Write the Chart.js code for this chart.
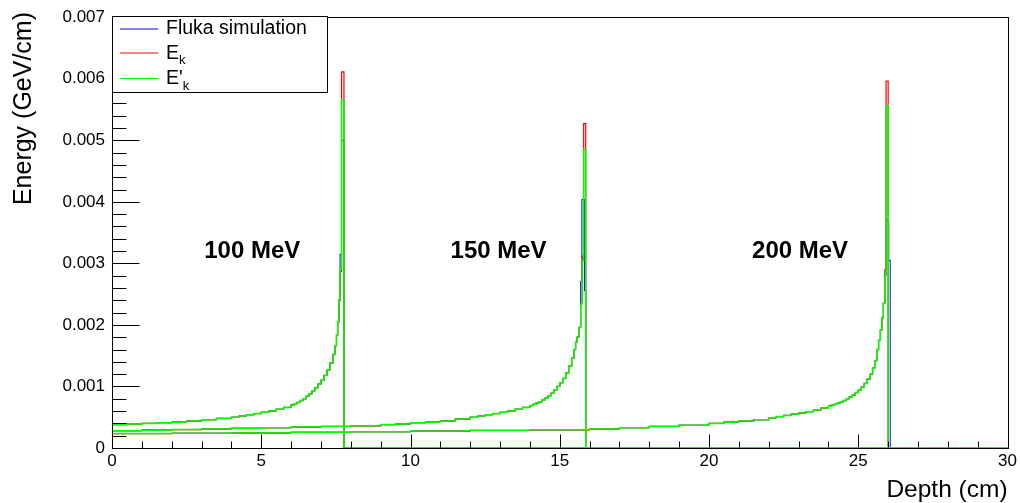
<!DOCTYPE html>
<html lang="en">

<head>
    <meta charset="UTF-8">
    <script src="https://cdn.jsdelivr.net/npm/chart.js"></script>
    <title>Bragg peaks</title>
    <style>
        body {
            margin: 0;
            background: #ffffff;
        }

        #wrap {
            width: 1020px;
            height: 503px;
        }
    </style>
</head>

<body>
    <div id="wrap">
        <canvas id="braggChart"></canvas>
    </div>

    <script>
        // bin left edges (cm) and energy deposit (GeV/cm).
        // the three curves of one beam overlap up to the peak, so that part is shared
        const depth100 = [0, 0.5, 1, 1.5, 2, 2.5, 3, 3.5, 4, 4.25, 4.5, 4.75, 5, 5.25, 5.5, 5.75, 6, 6.1, 6.2, 6.3, 6.4, 6.5, 6.6, 6.7, 6.8, 6.9, 7.0, 7.1, 7.2, 7.3, 7.4, 7.47, 7.52, 7.56, 7.6];
        const bulk100 = [0.00038, 0.00039, 0.0004, 0.00041, 0.00042, 0.00044, 0.00046, 0.00048, 0.0005, 0.00052, 0.00054, 0.00056, 0.00058, 0.0006, 0.00063, 0.00066, 0.0007, 0.00072, 0.00074, 0.00077, 0.0008, 0.00084, 0.00088, 0.00093, 0.00098, 0.00104, 0.0011, 0.00118, 0.00127, 0.00138, 0.00152, 0.00166, 0.00183, 0.00205, 0.0024];
        const peakDepth100 = [7.64, 7.69, 7.77, 30];
        const flukaPeak100 = [0.00315, 0.005, 0, 0];
        const ekPeak100 = [0.00287, 0.00611, 0, 0];
        const ekPrimePeak100 = [0.0029, 0.00566, 0, 0];

        const depth150 = [0, 1, 2, 3, 4, 5, 6, 7, 8, 9, 9.5, 10, 10.5, 11, 11.5, 12, 12.25, 12.5, 12.75, 13, 13.25, 13.5, 13.75, 14, 14.1, 14.2, 14.3, 14.4, 14.5, 14.6, 14.7, 14.8, 14.9, 15.0, 15.1, 15.2, 15.3, 15.4, 15.48, 15.53, 15.58, 15.65];
        const bulk150 = [0.00028, 0.00029, 0.0003, 0.00031, 0.00032, 0.00033, 0.00034, 0.00035, 0.00036, 0.00038, 0.00039, 0.00041, 0.00042, 0.00044, 0.00047, 0.0005, 0.00052, 0.00054, 0.00056, 0.00058, 0.0006, 0.00063, 0.00066, 0.00069, 0.00071, 0.00073, 0.00075, 0.00078, 0.00081, 0.00085, 0.00089, 0.00094, 0.001, 0.00106, 0.00113, 0.00122, 0.00133, 0.00146, 0.0016, 0.00172, 0.0018, 0.00196];
        const peakDepth150 = [15.7, 15.75, 15.8, 15.87, 30];
        const ekPeak150 = [0.00234, 0.00312, 0.00527, 0, 0];
        const ekPrimePeak150 = [0.00234, 0.00304, 0.00485, 0, 0];
        const peakDepthFluka150 = [15.7, 15.74, 15.83, 15.87, 30];
        const flukaPeak150 = [0.00271, 0.00404, 0.00255, 0, 0];

        const depth200 = [0, 2, 4, 6, 8, 10, 12, 14, 16, 17, 18, 19, 20, 20.5, 21, 21.5, 22, 22.25, 22.5, 22.75, 23, 23.25, 23.5, 23.75, 24, 24.1, 24.2, 24.3, 24.4, 24.5, 24.6, 24.7, 24.8, 24.9, 25.0, 25.1, 25.2, 25.3, 25.4, 25.48, 25.55, 25.62, 25.68, 25.74, 25.79, 25.84];
        const bulk200 = [0.000235, 0.00024, 0.000245, 0.000255, 0.000265, 0.000275, 0.000285, 0.000295, 0.00031, 0.00033, 0.00035, 0.00037, 0.0004, 0.00042, 0.00044, 0.00046, 0.00049, 0.00051, 0.00053, 0.00055, 0.00057, 0.00059, 0.00062, 0.00065, 0.00068, 0.0007, 0.00071, 0.00073, 0.00075, 0.00077, 0.0008, 0.00083, 0.00086, 0.0009, 0.00094, 0.00099, 0.00105, 0.00112, 0.0012, 0.0013, 0.00142, 0.0016, 0.00175, 0.00192, 0.00212, 0.00235];
        const peakDepth200 = [25.89, 25.93, 26.0, 30];
        const ekPeak200 = [0.0029, 0.00596, 0, 0];
        const ekPrimePeak200 = [0.00282, 0.00556, 0, 0];
        const peakDepthFluka200 = [25.89, 25.93, 26.02, 26.07, 30];
        const flukaPeak200 = [0.0028, 0.0037, 0.00305, 0, 0];

        const beamLabels = ['100 MeV', '150 MeV', '200 MeV'];

        const FONT = "'Liberation Sans', Arial, Helvetica, sans-serif";
        const BLUE = '#0000ff';
        const RED = '#ff0000';
        const GREEN = '#00ff00';

        function toPoints(depth, values, peakDepth, peakValues) {
            const d = depth.concat(peakDepth);
            const v = values.concat(peakValues);
            return d.map((x, i) => ({ x: x, y: v[i] }));
        }

        function histo(points, color, width, order) {
            return {
                data: points,
                borderColor: color,
                borderWidth: width,
                stepped: true,
                pointRadius: 0,
                fill: false,
                order: order
            };
        }

        // green on top, then red, blue underneath
        const datasets = [
            histo(toPoints(depth100, bulk100, peakDepth100, flukaPeak100), BLUE, 1, 3),
            histo(toPoints(depth150, bulk150, peakDepthFluka150, flukaPeak150), BLUE, 1, 3),
            histo(toPoints(depth200, bulk200, peakDepthFluka200, flukaPeak200), BLUE, 1, 3),
            histo(toPoints(depth100, bulk100, peakDepth100, ekPeak100), RED, 1.2, 2),
            histo(toPoints(depth150, bulk150, peakDepth150, ekPeak150), RED, 1.2, 2),
            histo(toPoints(depth200, bulk200, peakDepth200, ekPeak200), RED, 1.2, 2),
            histo(toPoints(depth100, bulk100, peakDepth100, ekPrimePeak100), GREEN, 1.5, 1),
            histo(toPoints(depth150, bulk150, peakDepth150, ekPrimePeak150), GREEN, 1.5, 1),
            histo(toPoints(depth200, bulk200, peakDepth200, ekPrimePeak200), GREEN, 1.5, 1)
        ];

        function line(ctx, x1, y1, x2, y2) {
            ctx.beginPath();
            ctx.moveTo(x1, y1);
            ctx.lineTo(x2, y2);
            ctx.stroke();
        }

        // ROOT-style frame, inner ticks, legend and text
        const rootStyle = {
            id: 'rootStyle',
            beforeDraw(chart) {
                const ctx = chart.ctx;
                ctx.save();
                ctx.fillStyle = '#ffffff';
                ctx.fillRect(0, 0, chart.width, chart.height);
                ctx.restore();
            },
            afterDatasetsDraw(chart) {
                const ctx = chart.ctx;
                const a = chart.chartArea;
                const xs = chart.scales.x;
                const ys = chart.scales.y;
                const left = Math.round(a.left) + 0.5;
                const bottom = Math.round(a.bottom) + 0.5;
                ctx.save();
                ctx.strokeStyle = '#000000';
                ctx.lineWidth = 1;

                // frame
                ctx.strokeRect(left, Math.round(a.top) + 0.5, Math.round(a.right - a.left), Math.round(a.bottom - a.top));

                // x ticks
                for (let v = 0; v <= 30; v++) {
                    const px = Math.round(xs.getPixelForValue(v)) + 0.5;
                    const len = v % 5 === 0 ? 14 : 7;
                    line(ctx, px, bottom, px, bottom - len);
                }
                // y ticks
                for (let i = 0; i <= 35; i++) {
                    const py = Math.round(ys.getPixelForValue(i * 0.0002)) + 0.5;
                    const len = i % 5 === 0 ? 27 : 14;
                    line(ctx, left, py, left + len, py);
                }

                // beam energy labels
                ctx.fillStyle = '#000000';
                ctx.font = 'bold 24px ' + FONT;
                ctx.textAlign = 'center';
                ctx.textBaseline = 'middle';
                const labelX = [4.7, 12.95, 23.05];
                beamLabels.forEach((t, i) => {
                    ctx.fillText(t, xs.getPixelForValue(labelX[i]), ys.getPixelForValue(0.0032));
                });

                // axis titles
                ctx.font = '24.5px ' + FONT;
                ctx.textAlign = 'right';
                ctx.textBaseline = 'alphabetic';
                ctx.fillText('Depth (cm)', a.right, 497);
                ctx.font = '25px ' + FONT;
                ctx.save();
                ctx.translate(31, 12);
                ctx.rotate(-Math.PI / 2);
                ctx.fillText('Energy (GeV/cm)', 0, 0);
                ctx.restore();

                // legend
                ctx.fillStyle = '#ffffff';
                ctx.fillRect(112.5, 16.5, 215, 76);
                ctx.strokeRect(112.5, 16.5, 215, 76);
                const entries = [
                    { color: BLUE, y: 29 },
                    { color: RED, y: 53 },
                    { color: GREEN, y: 78.5 }
                ];
                entries.forEach(e => {
                    ctx.strokeStyle = e.color;
                    line(ctx, 120, e.y, 158, e.y);
                });
                ctx.fillStyle = '#000000';
                ctx.textAlign = 'left';
                ctx.font = '19.5px ' + FONT;
                ctx.fillText('Fluka simulation', 166, 34);
                ctx.fillText('E', 166, 58.5);
                ctx.fillText("E'", 166, 83.5);
                const wE = ctx.measureText('E').width;
                const wEp = ctx.measureText("E'").width;
                ctx.font = '13px ' + FONT;
                ctx.fillText('k', 166 + wE, 64);
                ctx.fillText('k', 166 + wEp, 89.5);

                ctx.restore();
            }
        };

        const ctx = document.getElementById('braggChart').getContext('2d');
        const braggChart = new Chart(ctx, {
            type: 'line',
            data: { datasets: datasets },
            options: {
                responsive: true,
                maintainAspectRatio: false,
                animation: false,
                layout: {
                    padding: { top: 15, right: 11, left: 0, bottom: 0 }
                },
                plugins: {
                    legend: { display: false },
                    tooltip: { enabled: false }
                },
                scales: {
                    x: {
                        type: 'linear',
                        min: 0,
                        max: 30,
                        grid: { display: false, drawTicks: false },
                        border: { display: false },
                        ticks: {
                            stepSize: 5,
                            padding: 3,
                            maxRotation: 0,
                            color: '#000000',
                            font: { family: FONT, size: 17 }
                        },
                        afterFit: s => { s.height = 55; }
                    },
                    y: {
                        type: 'linear',
                        min: 0,
                        max: 0.007,
                        grid: { display: false, drawTicks: false },
                        border: { display: false },
                        ticks: {
                            stepSize: 0.001,
                            padding: 7,
                            color: '#000000',
                            font: { family: FONT, size: 17 },
                            callback: v => (v === 0 ? '0' : v.toFixed(3))
                        },
                        afterFit: s => { s.width = 112; }
                    }
                }
            },
            plugins: [rootStyle]
        });
    </script>
</body>

</html>
